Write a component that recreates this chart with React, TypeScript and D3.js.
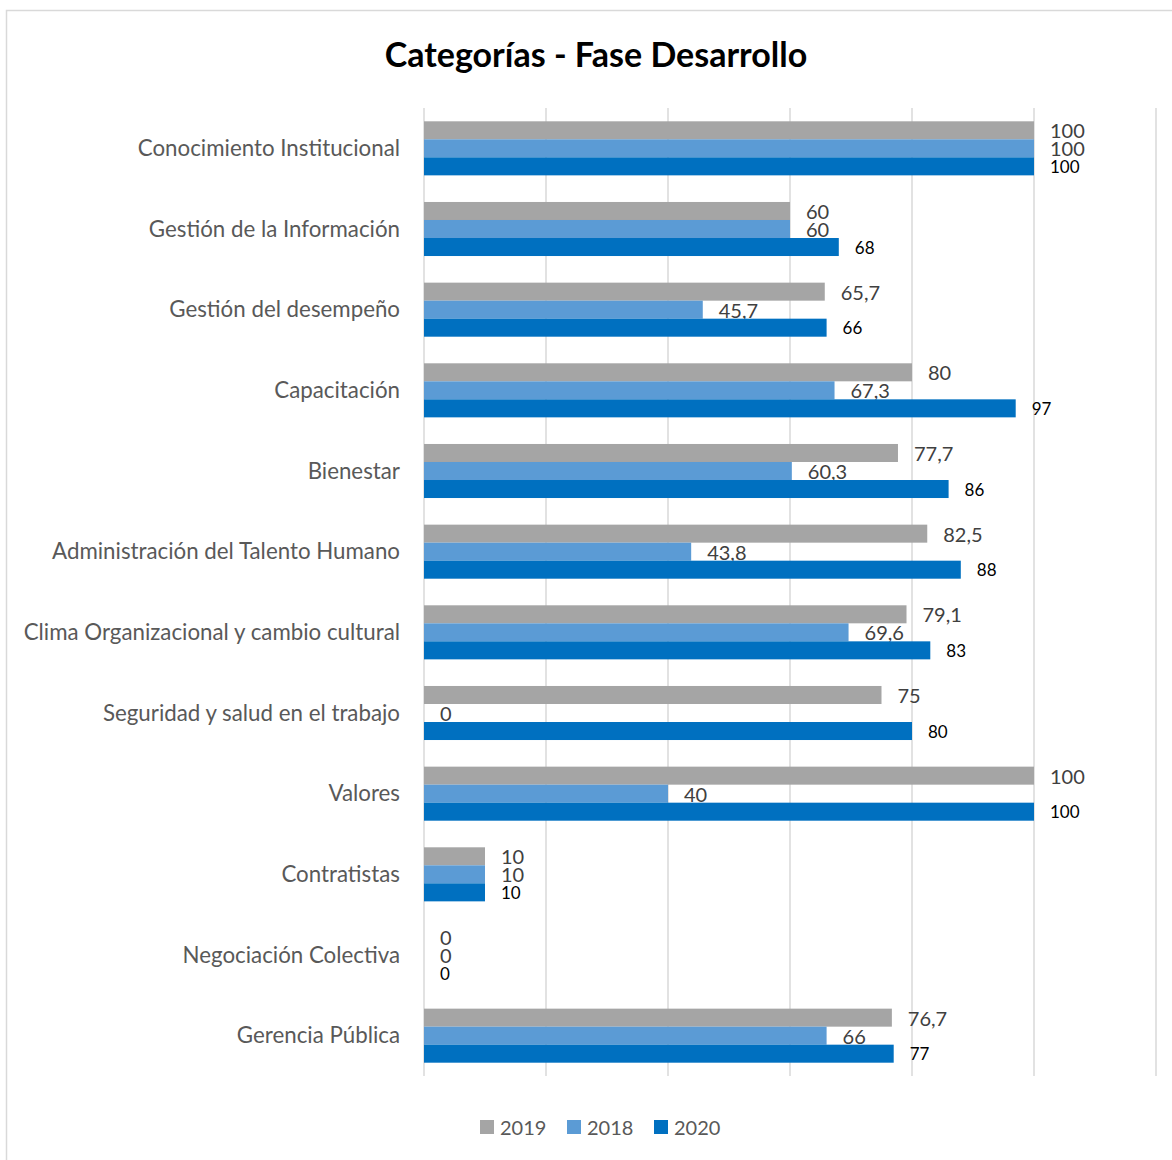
import React from 'react';
import * as d3 from 'd3';

const categories = [
  'Conocimiento Institucional',
  'Gestión de la Información',
  'Gestión del desempeño',
  'Capacitación',
  'Bienestar',
  'Administración del Talento Humano',
  'Clima Organizacional y cambio cultural',
  'Seguridad y salud en el trabajo',
  'Valores',
  'Contratistas',
  'Negociación Colectiva',
  'Gerencia Pública',
];

const seriesNames = ['2019', '2018', '2020'];
const values2019 = [100, 60, 65.7, 80, 77.7, 82.5, 79.1, 75, 100, 10, 0, 76.7];
const values2018 = [100, 60, 45.7, 67.3, 60.3, 43.8, 69.6, 0, 40, 10, 0, 66];
const values2020 = [100, 68, 66, 97, 86, 88, 83, 80, 100, 10, 0, 77];
const xTicks = [0, 20, 40, 60, 80, 100, 120];

const colors: Record<string, string> = { '2019': '#A5A5A5', '2018': '#5B9BD5', '2020': '#0070C0' };
const FONT = 'Lato, "Noto Sans", sans-serif';

const W = 1172;
const H = 1160;
const margin = { top: 108, bottom: 84, left: 424, right: 16 };

const fmt = (v: number) => String(v).replace('.', ',');

const App: React.FC = () => {
  const x = d3.scaleLinear().domain([0, 120]).range([margin.left, 1156]);
  const y = d3
    .scaleBand<string>()
    .domain(categories)
    .range([margin.top, H - margin.bottom])
    .paddingInner(0.33)
    .paddingOuter(0.165);
  const inner = d3.scaleBand<string>().domain(seriesNames).range([0, y.bandwidth()]);

  const data: Record<string, number[]> = { '2019': values2019, '2018': values2018, '2020': values2020 };

  const legendX = [480, 567, 654];

  return (
    <svg width={W} height={H} style={{ position: 'absolute', left: 0, top: 0, background: '#fff' }}>
      <rect x={6.5} y={10.5} width={W + 20} height={H + 20} fill="#fff" stroke="#d9d9d9" strokeWidth={1.5} />
      <text x={596} y={53} textAnchor="middle" dominantBaseline="central" fontFamily={FONT} fontWeight="bold" fontSize={34} fill="#000">
        Categorías - Fase Desarrollo
      </text>

      {/* grid */}
      {xTicks.map(t => (
        <line key={t} x1={x(t)} x2={x(t)} y1={margin.top} y2={H - margin.bottom} stroke="#d9d9d9" strokeWidth={1.5} />
      ))}

      {/* category labels */}
      {categories.map(c => (
        <text
          key={c}
          x={400}
          y={(y(c) ?? 0) + y.bandwidth() / 2 - 1}
          textAnchor="end"
          dominantBaseline="central"
          fontFamily={FONT}
          fontSize={22.3}
          fill="#595959"
        >
          {c}
        </text>
      ))}

      {/* bars */}
      {seriesNames.map(s =>
        categories.map((c, i) => {
          const v = data[s][i];
          const by = (y(c) ?? 0) + (inner(s) ?? 0);
          const cy = by + inner.bandwidth() / 2;
          const is2020 = s === '2020';
          return (
            <g key={s + c}>
              {v > 0 && (
                <rect x={x(0)} y={by} width={x(v) - x(0)} height={inner.bandwidth()} fill={colors[s]} />
              )}
              <text
                x={x(v) + 16}
                y={cy}
                dominantBaseline="central"
                fontFamily={FONT}
                fontSize={is2020 ? 17 : 20}
                fill={is2020 ? '#000' : '#404040'}
              >
                {fmt(v)}
              </text>
            </g>
          );
        })
      )}

      {/* legend */}
      {seriesNames.map((s, i) => (
        <g key={s} transform={`translate(${legendX[i]},1127)`}>
          <rect x={0} y={-7} width={14} height={14} fill={colors[s]} />
          <text x={20} y={0} dominantBaseline="central" fontFamily={FONT} fontSize={20} fill="#595959">
            {s}
          </text>
        </g>
      ))}
    </svg>
  );
};

export default App;
